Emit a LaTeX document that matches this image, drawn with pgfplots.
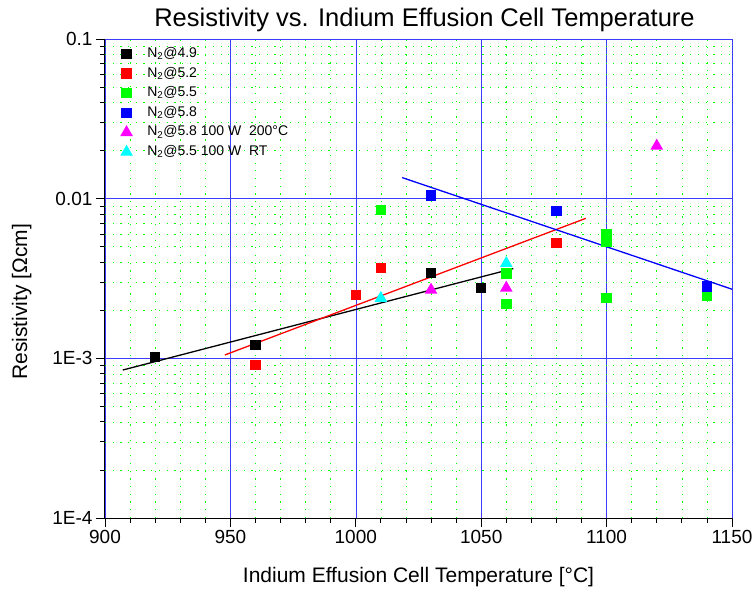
\documentclass[border=0pt]{standalone}
\usepackage{fontspec}
\setmainfont{Liberation Sans}
\usepackage{pgfplots}
\usepackage{pgfplotstable}
\pgfplotsset{compat=1.18}
\usetikzlibrary{calc}

\definecolor{ogreen}{RGB}{0,255,0}
\definecolor{ocyan}{RGB}{0,255,255}
\definecolor{omag}{RGB}{255,0,255}
\definecolor{gridblue}{RGB}{60,60,255}

% N2@4.9
\pgfplotstableread{
x y
920 1.02e-3
960 1.21e-3
1030 3.43e-3
1050 2.76e-3
}\nA
% N2@5.2
\pgfplotstableread{
x y
960 9.1e-4
1000 2.49e-3
1010 3.68e-3
1080 5.26e-3
}\nB
% N2@5.5
\pgfplotstableread{
x y
1010 8.5e-3
1060 2.19e-3
1060 3.4e-3
1100 6.0e-3
1100 5.4e-3
1100 2.38e-3
1140 2.46e-3
}\nC
% N2@5.8
\pgfplotstableread{
x y
1030 1.045e-2
1080 8.4e-3
1140 2.81e-3
}\nD
% N2@5.8 100 W 200C
\pgfplotstableread{
x y
1120 2.14e-2
1030 2.68e-3
1060 2.76e-3
}\nE
% N2@5.5 100 W RT
\pgfplotstableread{
x y
1010 2.38e-3
1060 3.94e-3
}\nF

\begin{document}
\begin{tikzpicture}
\begin{axis}[
  width=627pt, height=479pt, scale only axis,
  xmin=900, xmax=1150,
  ymode=log, ymin=1e-4, ymax=0.1,
  axis lines=left, axis line style={-, line width=1pt},
  xtick={900,950,1000,1050,1100,1150}, minor x tick num=4,
  ytick={1e-4,1e-3,1e-2,1e-1},
  yticklabels={1E-4,1E-3,0.01,0.1},
  minor ytick={2e-4,3e-4,4e-4,5e-4,6e-4,7e-4,8e-4,9e-4,
               2e-3,3e-3,4e-3,5e-3,6e-3,7e-3,8e-3,9e-3,
               2e-2,3e-2,4e-2,5e-2,6e-2,7e-2,8e-2,9e-2},
  tick align=outside, major tick length=9pt, minor tick length=5pt,
  tick style={black, line width=0.8pt},
  grid=both,
  major grid style={gridblue, line width=0.6pt},
  minor grid style={ogreen, line width=0.6pt, dash pattern=on 1.2pt off 6.5pt},
  xticklabel style={/pgf/number format/.cd, 1000 sep={}, assume math mode=true},
  tick label style={font=\fontsize{19}{22}\selectfont},
  title={Resistivity vs. Indium Effusion Cell Temperature},
  title style={font=\fontsize{25.5}{30}\selectfont, at={(axis description cs:0.5,1)}, anchor=base, yshift=7pt, xshift=6pt},
  xlabel={Indium Effusion Cell Temperature [°C]},
  xlabel style={font=\fontsize{21}{24}\selectfont, at={(axis description cs:0.5,0)}, anchor=center, yshift=-59pt},
  ylabel={Resistivity [Ωcm]},
  ylabel style={font=\fontsize{21}{24}\selectfont, at={(axis description cs:-0.133,0.451)}, anchor=center},
  legend cell align=left,
  legend style={at={(0.021,0.99)}, anchor=north west, draw=none, fill=none,
    font=\fontsize{14}{16}\selectfont, row sep=3.6pt, column sep=14pt,
    nodes={text height=10pt, text depth=3pt, inner sep=1.5pt}},
  every axis plot/.append style={line width=1.3pt},
]
\addplot[only marks, mark=square*, mark size=4.6pt, black] table {\nA};
\addlegendentry{N\textsubscript{2}@4.9}
\addplot[only marks, mark=square*, mark size=4.6pt, red] table {\nB};
\addlegendentry{N\textsubscript{2}@5.2}
\addplot[only marks, mark=square*, mark size=4.6pt, ogreen] table {\nC};
\addlegendentry{N\textsubscript{2}@5.5}
\addplot[only marks, mark=square*, mark size=4.6pt, blue] table {\nD};
\addlegendentry{N\textsubscript{2}@5.8}
\addplot[only marks, mark=triangle*, mark size=6pt, omag] table {\nE};
\addlegendentry{N\textsubscript{2}@5.8 100 W\ \ 200°C}
\addplot[only marks, mark=triangle*, mark size=6pt, ocyan] table {\nF};
\addlegendentry{N\textsubscript{2}@5.5 100 W\ \ RT}
% fit lines
\addplot[black, no marks, forget plot] coordinates {(907.1,8.45e-4) (1062.8,3.65e-3)};
\addplot[red, no marks, forget plot] coordinates {(947.8,1.05e-3) (1091.7,7.53e-3)};
\addplot[blue, no marks, forget plot] coordinates {(1018.5,1.355e-2) (1150,2.71e-3)};
\end{axis}
\pgfresetboundingbox
\path ($(current axis.south west)+(-105pt,-72pt)$) rectangle ($(current axis.north east)+(23pt,39pt)$);
\end{tikzpicture}
\end{document}
